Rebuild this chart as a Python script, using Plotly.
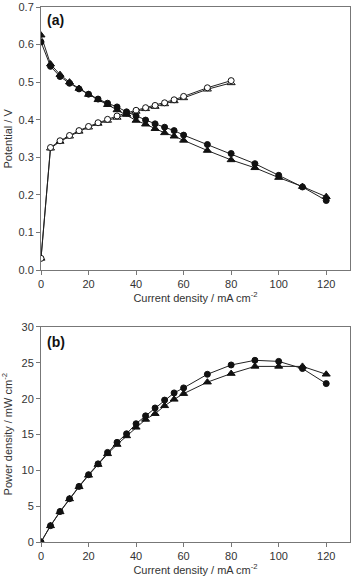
import plotly.graph_objects as go

# Current density (mA cm-2)
x_dis = [0, 4, 8, 12, 16, 20, 24, 28, 32, 36, 40, 44, 48, 52, 56, 60, 70, 80, 90, 100, 110, 120]
x_chg = [0, 4, 8, 12, 16, 20, 24, 28, 32, 36, 40, 44, 48, 52, 56, 60, 70, 80]

# Panel (a): potential / V
v_dis_circle = [0.607, 0.542, 0.515, 0.497, 0.482, 0.468, 0.455, 0.444, 0.434, 0.421, 0.410, 0.399, 0.389, 0.380, 0.371, 0.359,
                0.334, 0.310, 0.283, 0.252, 0.221, 0.185]
v_dis_tri = [0.625, 0.548, 0.520, 0.500, 0.483, 0.467, 0.453, 0.440, 0.426, 0.414, 0.398, 0.388, 0.376, 0.365, 0.356, 0.345,
             0.318, 0.293, 0.272, 0.246, 0.222, 0.195]
v_chg_circle = [0.031, 0.326, 0.344, 0.358, 0.371, 0.382, 0.392, 0.401, 0.410, 0.418, 0.425, 0.432, 0.438, 0.445, 0.453, 0.462,
                0.485, 0.504]
v_chg_tri = [0.031, 0.324, 0.342, 0.356, 0.369, 0.380, 0.390, 0.398, 0.406, 0.415, 0.422, 0.429, 0.435, 0.442, 0.450, 0.458,
             0.481, 0.498]

# Panel (b): power density / mW cm-2
p_circle = [0, 2.28, 4.25, 6.04, 7.76, 9.39, 10.9, 12.5, 13.9, 15.1, 16.5, 17.6, 18.7, 19.8, 20.8, 21.5,
            23.4, 24.7, 25.35, 25.2, 24.2, 22.1]
p_tri = [0, 2.25, 4.2, 6.0, 7.7, 9.3, 10.8, 12.3, 13.6, 14.8, 16.0, 17.1, 17.9, 19.0, 19.9, 20.7,
         22.3, 23.5, 24.5, 24.5, 24.5, 23.4]

xticks = [0, 20, 40, 60, 80, 100, 120]

fig = go.Figure()

line = dict(color="#222", width=1)

def add(x, y, symbol, filled, xa, ya):
    fig.add_trace(go.Scatter(
        x=x, y=y, mode="lines+markers", xaxis=xa, yaxis=ya,
        line=line,
        marker=dict(symbol=symbol, size=6 if symbol == "circle" else 7,
                    color="#111" if filled else "white",
                    line=dict(color="#111", width=1)),
        showlegend=False))

add(x_chg, v_chg_tri, "triangle-up", False, "x", "y")
add(x_chg, v_chg_circle, "circle", False, "x", "y")
add(x_dis, v_dis_tri, "triangle-up", True, "x", "y")
add(x_dis, v_dis_circle, "circle", True, "x", "y")
add(x_dis, p_tri, "triangle-up", True, "x2", "y2")
add(x_dis, p_circle, "circle", True, "x2", "y2")

axcommon = dict(showline=True, linecolor="#777", linewidth=1, mirror=True,
                ticks="outside", ticklen=4, tickcolor="#777",
                showgrid=False, zeroline=False,
                tickfont=dict(family="Liberation Sans, Arial", size=11, color="#333"))

xtitle = dict(text="Current density / mA cm<sup>-2</sup>",
              font=dict(family="Liberation Sans, Arial", size=11, color="#333"), standoff=3)

fig.update_layout(
    width=352, height=577,
    margin=dict(l=41, r=2, t=7, b=35),
    plot_bgcolor="white", paper_bgcolor="white",
    xaxis=dict(domain=[0, 1], range=[0, 130], tickvals=xticks, anchor="y", title=xtitle, **axcommon),
    yaxis=dict(domain=[0.5084, 1.0], range=[0, 0.7], dtick=0.1, tickformat=".1f", anchor="x", **axcommon),
    xaxis2=dict(domain=[0, 1], range=[0, 130], tickvals=xticks, anchor="y2", title=xtitle, **axcommon),
    yaxis2=dict(domain=[0, 0.4019], range=[0, 30], dtick=5, anchor="x2", **axcommon),
    annotations=[
        dict(text="<b>(a)</b>", xref="paper", yref="paper", x=0.012, y=0.995, xanchor="left", yanchor="top",
             showarrow=False, font=dict(family="Liberation Sans, Arial", size=14, color="#111")),
        dict(text="<b>(b)</b>", xref="paper", yref="paper", x=0.012, y=0.393, xanchor="left", yanchor="top",
             showarrow=False, font=dict(family="Liberation Sans, Arial", size=14, color="#111")),
        dict(text="Potential / V", xref="paper", yref="paper", x=-0.107, y=0.754, xanchor="center", yanchor="middle",
             textangle=-90, showarrow=False, font=dict(family="Liberation Sans, Arial", size=11, color="#333")),
        dict(text="Power density / mW cm<sup>-2</sup>", xref="paper", yref="paper", x=-0.107, y=0.201,
             xanchor="center", yanchor="middle", textangle=-90, showarrow=False,
             font=dict(family="Liberation Sans, Arial", size=11, color="#333")),
    ],
)

fig.write_html("out.html")
